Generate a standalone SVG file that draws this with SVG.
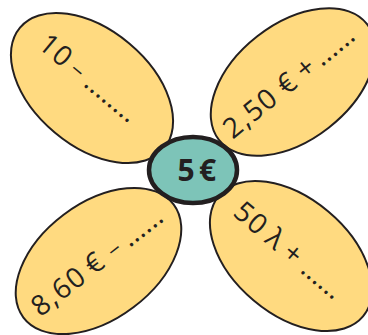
<svg xmlns="http://www.w3.org/2000/svg" width="368" height="335" viewBox="0 0 368 335">
<style>
.petal{fill:#FFDA80;stroke:#231F20;stroke-width:2}
.core{fill:#7DC4B8;stroke:#231F20;stroke-width:4.5}
.t{font-family:"Open Sans","Liberation Sans",sans-serif;font-size:28px;fill:#231F20}
.ls{letter-spacing:1.5px}
.m{font-size:22px}
.d{letter-spacing:0.2px}
.c{font-family:"Open Sans","Liberation Sans",sans-serif;font-size:30px;font-weight:700;fill:#231F20;word-spacing:-3.5px}
</style>
<rect width="368" height="335" fill="#FFFFFF"/>
<g id="petal-tl">
<ellipse class="petal" cx="92" cy="88" rx="94" ry="58" transform="rotate(40 92 88)"/>
<text class="t" transform="translate(85.4 87.5) rotate(39.9)"><tspan class="ls" x="-63.5" y="0">10</tspan><tspan class="m" x="-23.3" y="0">−</tspan><tspan class="d" x="-3.7" y="0">........</tspan></text>
</g>
<g id="petal-tr">
<ellipse class="petal" cx="293" cy="82" rx="94" ry="58" transform="rotate(-38 293 82)"/>
<text class="t" transform="translate(324.6 64.85) rotate(-39.2)"><tspan class="ls" x="-118.4" y="0">2,50</tspan><tspan x="-49.3" y="0">€</tspan><tspan x="-24.9" y="0">+</tspan><tspan class="d" x="-3.7" y="0">......</tspan></text>
</g>
<g id="petal-bl">
<ellipse class="petal" cx="98.5" cy="261" rx="94" ry="58" transform="rotate(-37 98.5 261)"/>
<text class="t" transform="translate(132.3 245.7) rotate(-38)"><tspan class="ls" x="-116.5" y="0">8,60</tspan><tspan x="-48.8" y="0">€</tspan><tspan class="m" x="-22.9" y="0">−</tspan><tspan class="d" x="-3.7" y="0">......</tspan></text>
</g>
<g id="petal-br">
<ellipse class="petal" cx="291" cy="256" rx="94" ry="58" transform="rotate(40 291 256)"/>
<text class="t" transform="translate(302 273.8) rotate(40.1)"><tspan class="ls" x="-91.9" y="0">50</tspan><tspan x="-50.4" y="0">λ</tspan><tspan x="-27.9" y="0">+</tspan><tspan class="d" x="-3.7" y="0">......</tspan></text>
</g>
<g id="center">
<ellipse class="core" cx="193" cy="170" rx="44" ry="33"/>
<text class="c" x="177.5" y="181">5 €</text>
</g>
</svg>
